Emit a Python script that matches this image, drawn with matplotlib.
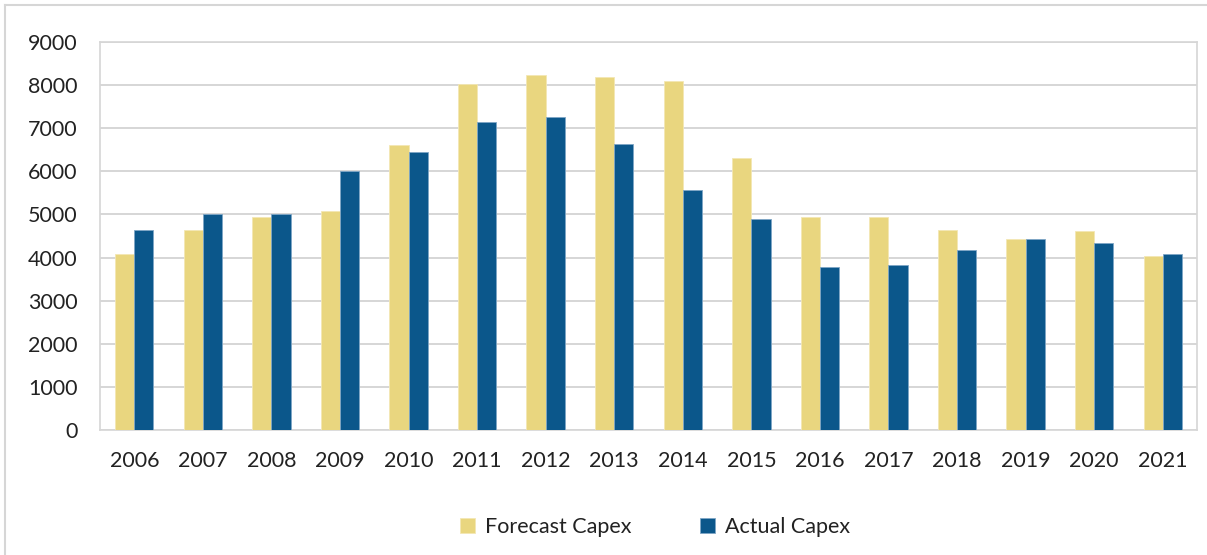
import numpy as np
import matplotlib
matplotlib.use("Agg")
import matplotlib.pyplot as plt
from matplotlib.lines import Line2D

# data
years = ["2006", "2007", "2008", "2009", "2010", "2011", "2012", "2013",
         "2014", "2015", "2016", "2017", "2018", "2019", "2020", "2021"]
forecast = [4090, 4640, 4930, 5080, 6620, 8030, 8230, 8180,
            8090, 6320, 4930, 4950, 4640, 4430, 4620, 4030]
actual = [4640, 5000, 5000, 6000, 6450, 7140, 7260, 6630,
          5570, 4900, 3790, 3820, 4180, 4430, 4340, 4090]

FORECAST_COLOR = "#E9D67F"
ACTUAL_COLOR = "#0B578B"
GRID_COLOR = "#D0D0D0"
FS = 15.5

plt.rcParams['font.family'] = ['Lato', 'DejaVu Sans']

fig = plt.figure(figsize=(12.07, 5.55), dpi=100)
W, H = 1207, 555
ax = fig.add_axes([100 / W, 1 - 430 / H, (1197 - 100) / W, (430 - 42) / H])

x = np.arange(len(years))
bw = 0.28
ax.bar(x - bw / 2, forecast, bw, color=FORECAST_COLOR, edgecolor="#F3E7B4",
       linewidth=0.6, label="Forecast Capex", zorder=3)
ax.bar(x + bw / 2, actual, bw, color=ACTUAL_COLOR, edgecolor="#7FA6C6",
       linewidth=0.6, label="Actual Capex", zorder=3)

ax.set_xlim(-0.5, len(years) - 0.5)
ax.set_ylim(0, 9000)
ax.set_yticks(range(0, 9001, 1000))
ax.set_xticks(x)
ax.set_xticklabels(years)

ax.grid(axis="y", color=GRID_COLOR, linewidth=1.2, zorder=0)
for s in ax.spines.values():
    s.set_color("#D6D6D6")
    s.set_linewidth(1.2)
ax.tick_params(axis="both", length=0, labelsize=FS, colors="#222222")
ax.tick_params(axis="y", pad=16)
ax.tick_params(axis="x", pad=15)

# outer chart border (top and left only, as in the crop)
fig.add_artist(Line2D([5 / W, 5 / W], [0, 1 - 5 / H], color="#D6D6D6", linewidth=1.5))
fig.add_artist(Line2D([5 / W, 1], [1 - 5 / H, 1 - 5 / H], color="#D6D6D6", linewidth=1.5))

handles, labels = ax.get_legend_handles_labels()
fig.legend(handles, labels, loc="center", bbox_to_anchor=(655 / W, 1 - 527 / H),
           ncol=2, frameon=False, fontsize=FS, handlelength=0.7,
           handleheight=0.7, handletextpad=0.45, columnspacing=3.2,
           labelcolor="#222222")

fig.savefig("out.png", dpi=100, facecolor="white")
